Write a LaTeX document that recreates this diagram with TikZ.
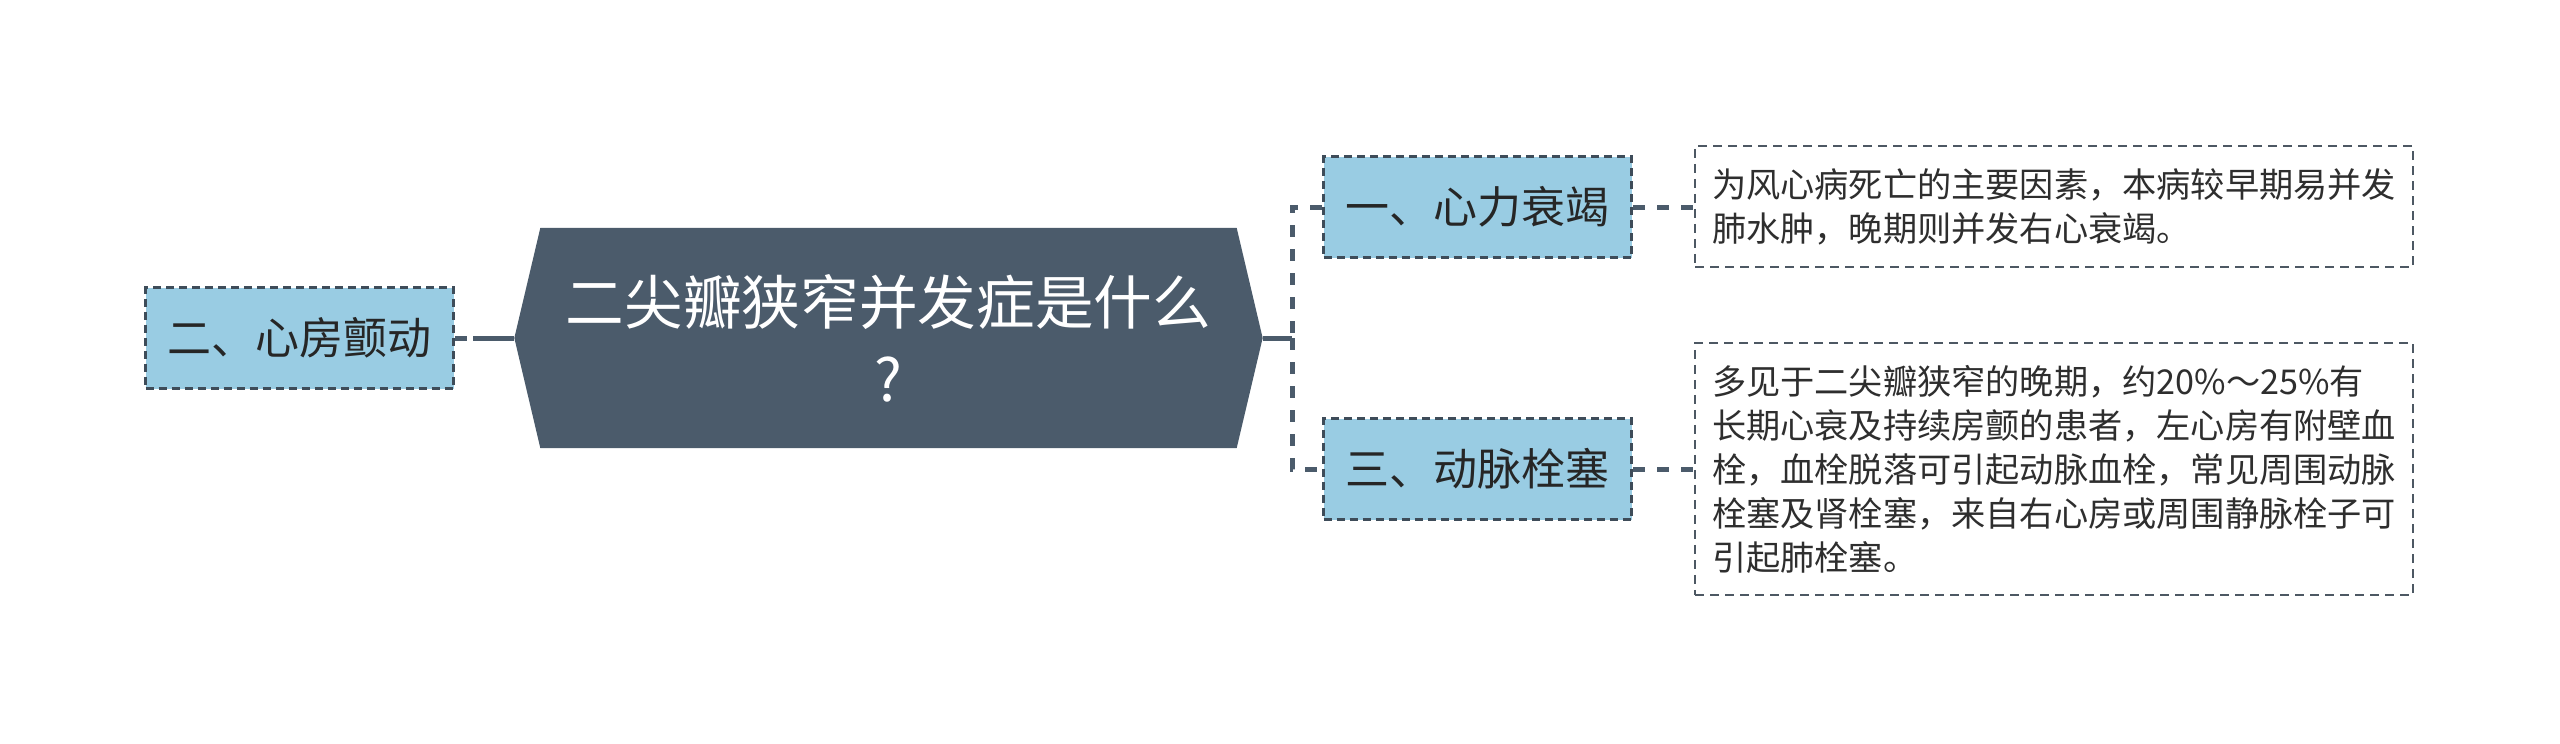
\documentclass[tikz,border=0pt]{standalone}
\usepackage{fontspec}
\setmainfont{Noto Sans CJK SC}
\usetikzlibrary{backgrounds}
\definecolor{rootfill}{HTML}{4B5B6B}
\definecolor{boxblue}{HTML}{99CCE3}
\definecolor{boxborder}{HTML}{3E4C59}
\definecolor{linecol}{HTML}{4B5B6B}
\definecolor{leafborder}{HTML}{4D5863}
\definecolor{labeltext}{HTML}{262626}
\definecolor{leaftext}{HTML}{2E2E2E}
\tikzset{
  rootbox/.style={shape=rectangle, minimum width=224.1pt, minimum height=65.7pt, inner sep=0pt, align=center, text=white, font=\fontsize{17.6pt}{23.1pt}\selectfont},
  subbox/.style={shape=rectangle, draw=boxborder, fill=boxblue, dash pattern=on 2.4pt off 1.5pt, line width=0.9pt, minimum width=92.4pt, minimum height=30.3pt, inner sep=0pt, text=labeltext, font=\fontsize{13.2pt}{15pt}\selectfont},
  leafbox/.style={shape=rectangle, draw=leafborder, fill=white, dash pattern=on 2.7pt off 1.8pt, line width=0.75pt, minimum width=215.4pt, inner sep=0pt, align=left, text=leaftext, font=\fontsize{10.26pt}{13.2pt}\selectfont},
  conn/.style={draw=linecol, line width=1.5pt},
  dashconn/.style={draw=linecol, line width=1.5pt, dash pattern=on 3.6pt off 3.6pt},
}
\begin{document}
\begin{tikzpicture}[x=0.3pt, y=-0.3pt]
\useasboundingbox (0,0) rectangle (2560,743);

% root
\node[rootbox] (root) at (888.5,338) {二尖瓣狭窄并发症是什么\\?};
\begin{scope}[on background layer]
\fill[white] (0,0) rectangle (2560,743);
\fill[rootfill] (root.west) -- ([xshift=7.8pt]root.north west) -- ([xshift=-7.8pt]root.north east) -- (root.east) -- ([xshift=-7.8pt]root.south east) -- ([xshift=7.8pt]root.south west) -- cycle;
\end{scope}

% sub-topics
\node[subbox] (b2) at (299.5,338) {二、心房颤动};
\node[subbox] (b1) at (1477.5,207) {一、心力衰竭};
\node[subbox] (b3) at (1477.5,469) {三、动脉栓塞};

% leaves
\node[leafbox, minimum height=36.3pt] (t1) at (2054,206.5) {为风心病死亡的主要因素，本病较早期易并发\\肺水肿，晚期则并发右心衰竭。};
\node[leafbox, minimum height=75.6pt] (t3) at (2054,469) {多见于二尖瓣狭窄的晚期，约20\%～25\%有\\长期心衰及持续房颤的患者，左心房有附壁血\\栓，血栓脱落可引起动脉血栓，常见周围动脉\\栓塞及肾栓塞，来自右心房或周围静脉栓子可\\引起肺栓塞。};

% junctions
\coordinate (jl) at (473,338);
\coordinate (jr) at (1292,338);

% connectors
\draw[conn] (root.west) -- (jl);
\draw[dashconn] (b2.east) -- (jl);
\draw[conn] (root.east) -- (jr);
\draw[dashconn] (b1.west) -| (jr);
\draw[dashconn] (jr) |- (b3.west);
\draw[dashconn] (b1.east) -- (b1.east -| t1.west);
\draw[dashconn] (b3.east) -- (b3.east -| t3.west);
\end{tikzpicture}
\end{document}
